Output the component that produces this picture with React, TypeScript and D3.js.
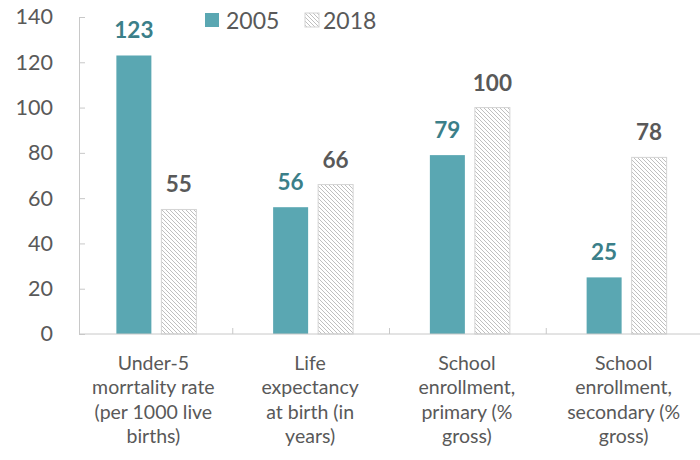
import React, { useRef, useEffect } from "react";
import * as d3 from "d3";

const categories = [
  ["Under-5", "morrtality rate", "(per 1000 live", "births)"],
  ["Life", "expectancy", "at birth (in", "years)"],
  ["School", "enrollment,", "primary (%", "gross)"],
  ["School", "enrollment,", "secondary (%", "gross)"],
];
const series = ["2005", "2018"];
const values2005 = [123, 56, 79, 25];
const values2018 = [55, 66, 100, 78];
const yTicks = [0, 20, 40, 60, 80, 100, 120, 140];

const TEAL = "#5aa7b2";
const TEAL_DARK = "#3b7f89";
const GRAY_TEXT = "#595959";
const FONT = "'Lato', 'DejaVu Sans', sans-serif";

const App = () => {
  const svgRef = useRef<SVGSVGElement>(null);

  useEffect(() => {
    const svg = d3.select(svgRef.current);
    svg.selectAll("*").remove();
    const width = 700;
    const height = 460;
    const margin = { top: 17, left: 79, right: 0, bottom: 127 };

    const defs = svg.append("defs");
    const pat = defs
      .append("pattern")
      .attr("id", "hatch")
      .attr("patternUnits", "userSpaceOnUse")
      .attr("width", 4)
      .attr("height", 4);
    pat.append("rect").attr("width", 4).attr("height", 4).attr("fill", "#fff");
    pat
      .append("path")
      .attr("d", "M-1,-1 L5,5 M-1,3 L1,5 M3,-1 L5,1")
      .attr("stroke", "#b8b8b8")
      .attr("stroke-width", 0.9);

    // scales
    const x = d3
      .scaleBand()
      .domain(d3.range(categories.length).map(String))
      .range([margin.left - 3, width + 3]);
    const y = d3
      .scaleLinear()
      .domain([0, 140])
      .range([height - margin.bottom + 1, margin.top]);

    const barW = 35;
    const gap = 10;
    const offset = (i: number) =>
      x(String(i))! + x.bandwidth() / 2 - barW - gap / 2 + 2;

    // axes
    const yAxis = svg.append("g").attr("transform", `translate(${margin.left},0)`);
    yAxis
      .call(d3.axisLeft(y).tickValues(yTicks).tickSizeInner(-6).tickSizeOuter(0).tickPadding(26))
      .call((g) => g.selectAll("line").attr("stroke", "#c8c8c8"))
      .call((g) => g.select(".domain").attr("stroke", "#c8c8c8"))
      .call((g) =>
        g
          .selectAll("text")
          .attr("fill", GRAY_TEXT)
          .attr("font-size", 21.5)
          .attr("font-family", FONT)
      );

    // bars 2005
    svg
      .append("g")
      .selectAll("rect")
      .data(values2005)
      .enter()
      .append("rect")
      .attr("x", (_, i) => offset(i))
      .attr("y", (d) => y(d))
      .attr("width", barW)
      .attr("height", (d) => y(0) - y(d))
      .attr("fill", TEAL);

    // bars 2018
    svg
      .append("g")
      .selectAll("rect")
      .data(values2018)
      .enter()
      .append("rect")
      .attr("x", (_, i) => offset(i) + barW + gap)
      .attr("y", (d) => y(d))
      .attr("width", barW)
      .attr("height", (d) => y(0) - y(d))
      .attr("fill", "url(#hatch)")
      .attr("stroke", "#d4d4d4")
      .attr("stroke-width", 1);

    // x axis
    const xAxis = svg.append("g").attr("transform", `translate(0,${y(0)})`);
    xAxis
      .append("line")
      .attr("x1", margin.left)
      .attr("x2", width)
      .attr("stroke", "#c8c8c8");
    xAxis
      .selectAll("line.tick")
      .data(d3.range(1, categories.length))
      .enter()
      .append("line")
      .attr("class", "tick")
      .attr("x1", (d) => x(String(d))!)
      .attr("x2", (d) => x(String(d))!)
      .attr("y1", 0)
      .attr("y2", -6)
      .attr("stroke", "#c8c8c8");

    // value labels
    svg
      .append("g")
      .selectAll("text")
      .data(values2005)
      .enter()
      .append("text")
      .attr("x", (_, i) => offset(i) + barW / 2)
      .attr("y", (d) => y(d) - 17)
      .attr("text-anchor", "middle")
      .attr("font-family", FONT)
      .attr("font-weight", "bold")
      .attr("font-size", 22.5)
      .attr("fill", TEAL_DARK)
      .text((d) => d);
    svg
      .append("g")
      .selectAll("text")
      .data(values2018)
      .enter()
      .append("text")
      .attr("x", (_, i) => offset(i) + barW + gap + barW / 2)
      .attr("y", (d) => y(d) - 17)
      .attr("text-anchor", "middle")
      .attr("font-family", FONT)
      .attr("font-weight", "bold")
      .attr("font-size", 22.5)
      .attr("fill", GRAY_TEXT)
      .text((d) => d);

    // category labels
    const catG = svg.append("g");
    categories.forEach((lines, i) => {
      const cx = x(String(i))! + x.bandwidth() / 2 - 1;
      const t = catG
        .append("text")
        .attr("x", cx)
        .attr("y", y(0) + 36)
        .attr("text-anchor", "middle")
        .attr("font-family", FONT)
        .attr("font-size", 19.5)
        .attr("fill", GRAY_TEXT);
      lines.forEach((ln, j) => {
        t.append("tspan")
          .attr("x", cx)
          .attr("dy", j === 0 ? 0 : 24.3)
          .text(ln);
      });
    });

    // legend
    const legend = svg.append("g").attr("transform", "translate(205,13)");
    legend.append("rect").attr("width", 14).attr("height", 14).attr("fill", TEAL);
    legend
      .append("text")
      .attr("x", 21)
      .attr("y", 15.5)
      .attr("font-family", FONT)
      .attr("font-size", 23)
      .attr("fill", GRAY_TEXT)
      .text(series[0]);
    legend
      .append("rect")
      .attr("x", 100)
      .attr("width", 14)
      .attr("height", 14)
      .attr("fill", "url(#hatch)")
      .attr("stroke", "#d4d4d4");
    legend
      .append("text")
      .attr("x", 118)
      .attr("y", 15.5)
      .attr("font-family", FONT)
      .attr("font-size", 23)
      .attr("fill", GRAY_TEXT)
      .text(series[1]);
  }, []);

  return <svg ref={svgRef} width={700} height={460} style={{ position: "absolute", left: 0, top: 0 }} />;
};

export default App;
